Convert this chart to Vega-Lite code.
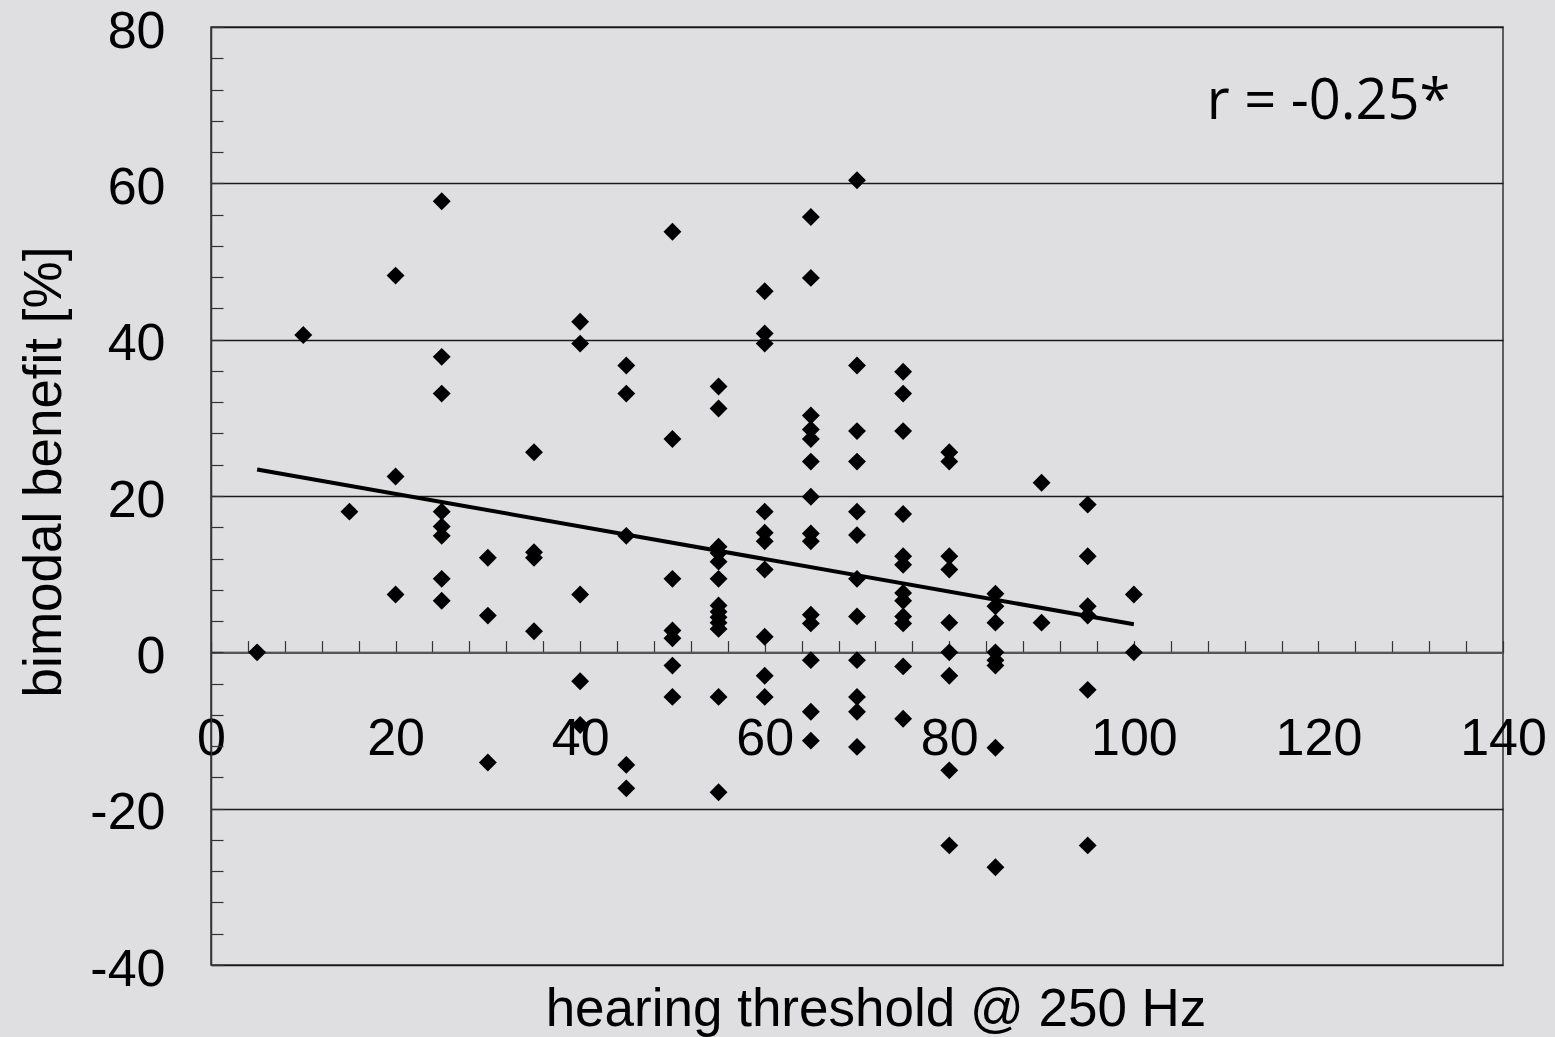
{
  "$schema": "https://vega.github.io/schema/vega-lite/v6.json",
  "width": 1292,
  "height": 938,
  "autosize": {"type": "none"},
  "padding": {"left": 211, "top": 27, "right": 52, "bottom": 72},
  "background": "#dfdfe1",
  "config": {
    "view": {"fill": "#dfdfe1", "stroke": "#333333", "strokeWidth": 1.5},
    "axis": {
      "labelFont": "Liberation Sans",
      "titleFont": "Liberation Sans",
      "labelFontSize": 52,
      "titleFontSize": 53,
      "labelColor": "#000000",
      "titleColor": "#000000",
      "titleFontWeight": "normal",
      "labelOverlap": false,
      "labelFlush": false
    }
  },
  "encoding": {
    "x": {
      "field": "x",
      "type": "quantitative",
      "scale": {"domain": [0, 140], "nice": false, "zero": false},
      "axis": {
        "values": [0,4,8,12,16,20,24,28,32,36,40,44,48,52,56,60,64,68,72,76,80,84,88,92,96,100,104,108,112,116,120,124,128,132,136,140],
        "labelExpr": "datum.value % 20 === 0 ? toString(datum.value) : ''",
        "offset": -312.4,
        "tickSize": -12,
        "tickColor": "#333333",
        "tickWidth": 1.2,
        "domainColor": "#555555",
        "domainWidth": 2,
        "labelPadding": 73,
        "labelBaseline": "top",
        "grid": false,
        "title": "hearing threshold @ 250 Hz",
        "titleX": 664.5,
        "titleY": 372.4,
        "titleBaseline": "alphabetic",
        "titleAlign": "center",
        "titleAnchor": null
      }
    },
    "y": {
      "field": "y",
      "type": "quantitative",
      "scale": {"domain": [-40, 80], "nice": false, "zero": false},
      "axis": {
        "values": [-40,-36,-32,-28,-24,-20,-16,-12,-8,-4,0,4,8,12,16,20,24,28,32,36,40,44,48,52,56,60,64,68,72,76,80],
        "labelExpr": "datum.value % 20 === 0 ? toString(datum.value) : ''",
        "tickSize": -12,
        "tickColor": "#333333",
        "tickWidth": 1.2,
        "labelPadding": 58,
        "labelOffset": 4,
        "grid": true,
        "gridColor": {"condition": {"test": "datum.value % 20 === 0", "value": "#1a1a1a"}, "value": "transparent"},
        "gridWidth": 1.6,
        "domainColor": "#333333",
        "domainWidth": 1.5,
        "title": "bimodal benefit [%]",
        "titleX": -151,
        "titleY": 444.5,
        "titleAngle": 270,
        "titleBaseline": "alphabetic",
        "titleAlign": "center",
        "titleAnchor": null
      }
    }
  },
  "layer": [
    {
      "data": {"values": [
        {"x": 5, "y": 0},
        {"x": 10, "y": 40.6},
        {"x": 15, "y": 18.0},
        {"x": 20, "y": 48.2}, {"x": 20, "y": 22.5}, {"x": 20, "y": 7.4},
        {"x": 25, "y": 57.7}, {"x": 25, "y": 37.8}, {"x": 25, "y": 33.1}, {"x": 25, "y": 18.0}, {"x": 25, "y": 16.1}, {"x": 25, "y": 14.9}, {"x": 25, "y": 9.4}, {"x": 25, "y": 6.6},
        {"x": 30, "y": 12.1}, {"x": 30, "y": 4.7}, {"x": 30, "y": -14.1},
        {"x": 35, "y": 25.6}, {"x": 35, "y": 12.8}, {"x": 35, "y": 12.1}, {"x": 35, "y": 2.7},
        {"x": 40, "y": 42.3}, {"x": 40, "y": 39.5}, {"x": 40, "y": 7.4}, {"x": 40, "y": -3.7}, {"x": 40, "y": -9.3},
        {"x": 45, "y": 36.7}, {"x": 45, "y": 33.1}, {"x": 45, "y": 14.9}, {"x": 45, "y": -14.4}, {"x": 45, "y": -17.4},
        {"x": 50, "y": 53.8}, {"x": 50, "y": 27.3}, {"x": 50, "y": 9.4}, {"x": 50, "y": 2.8}, {"x": 50, "y": 1.8}, {"x": 50, "y": -1.7}, {"x": 50, "y": -5.7},
        {"x": 55, "y": 34.0}, {"x": 55, "y": 31.2}, {"x": 55, "y": 13.5}, {"x": 55, "y": 12.7}, {"x": 55, "y": 11.6}, {"x": 55, "y": 9.4}, {"x": 55, "y": 6.0}, {"x": 55, "y": 5.2}, {"x": 55, "y": 4.5}, {"x": 55, "y": 3.8}, {"x": 55, "y": 3.0}, {"x": 55, "y": -5.7}, {"x": 55, "y": -17.9},
        {"x": 60, "y": 46.2}, {"x": 60, "y": 40.8}, {"x": 60, "y": 39.5}, {"x": 60, "y": 18.0}, {"x": 60, "y": 15.3}, {"x": 60, "y": 14.2}, {"x": 60, "y": 10.6}, {"x": 60, "y": 2.0}, {"x": 60, "y": -3.0}, {"x": 60, "y": -5.7},
        {"x": 65, "y": 55.7}, {"x": 65, "y": 47.9}, {"x": 65, "y": 30.3}, {"x": 65, "y": 28.5}, {"x": 65, "y": 27.3}, {"x": 65, "y": 24.4}, {"x": 65, "y": 19.9}, {"x": 65, "y": 15.2}, {"x": 65, "y": 14.2}, {"x": 65, "y": 4.8}, {"x": 65, "y": 3.7}, {"x": 65, "y": -1.0}, {"x": 65, "y": -7.6}, {"x": 65, "y": -11.3},
        {"x": 70, "y": 60.4}, {"x": 70, "y": 36.7}, {"x": 70, "y": 28.3}, {"x": 70, "y": 24.4}, {"x": 70, "y": 18.0}, {"x": 70, "y": 15.0}, {"x": 70, "y": 9.4}, {"x": 70, "y": 4.6}, {"x": 70, "y": -1.0}, {"x": 70, "y": -5.7}, {"x": 70, "y": -7.6}, {"x": 70, "y": -12.1},
        {"x": 75, "y": 35.9}, {"x": 75, "y": 33.1}, {"x": 75, "y": 28.3}, {"x": 75, "y": 17.7}, {"x": 75, "y": 12.3}, {"x": 75, "y": 11.2}, {"x": 75, "y": 7.6}, {"x": 75, "y": 6.6}, {"x": 75, "y": 4.6}, {"x": 75, "y": 3.7}, {"x": 75, "y": -1.8}, {"x": 75, "y": -8.5},
        {"x": 80, "y": 25.6}, {"x": 80, "y": 24.4}, {"x": 80, "y": 12.3}, {"x": 80, "y": 10.6}, {"x": 80, "y": 3.8}, {"x": 80, "y": 0}, {"x": 80, "y": -3.0}, {"x": 80, "y": -15.1}, {"x": 80, "y": -24.7},
        {"x": 85, "y": 7.5}, {"x": 85, "y": 5.9}, {"x": 85, "y": 3.8}, {"x": 85, "y": 0}, {"x": 85, "y": -1.0}, {"x": 85, "y": -1.7}, {"x": 85, "y": -12.2}, {"x": 85, "y": -27.5},
        {"x": 90, "y": 21.7}, {"x": 90, "y": 3.8},
        {"x": 95, "y": 18.9}, {"x": 95, "y": 12.3}, {"x": 95, "y": 5.9}, {"x": 95, "y": 4.7}, {"x": 95, "y": -4.8}, {"x": 95, "y": -24.7},
        {"x": 100, "y": 7.4}, {"x": 100, "y": 0}
      ]},
      "mark": {"type": "point", "shape": "diamond", "filled": true, "size": 320, "color": "#000000", "opacity": 1}
    },
    {
      "data": {"values": [{"x": 5, "y": 23.4}, {"x": 100, "y": 3.6}]},
      "mark": {"type": "line", "color": "#000000", "strokeWidth": 4}
    },
    {
      "data": {"values": [{"x": 107.9, "y": 68.2, "label": "r = -0.25*"}]},
      "mark": {"type": "text", "font": "Open Sans", "fontSize": 56, "align": "left", "baseline": "alphabetic", "color": "#000000"},
      "encoding": {"text": {"field": "label"}}
    }
  ]
}
